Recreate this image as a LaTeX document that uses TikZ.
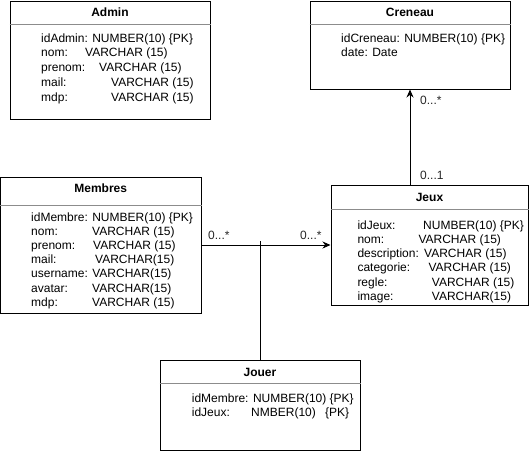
\documentclass[tikz,border=0pt]{standalone}
\usepackage{fontspec}
\setmainfont{Liberation Sans}
\usetikzlibrary{arrows.meta,calc}
\begin{document}
\begin{tikzpicture}[x=1pt,y=-1pt,
  font=\fontsize{12}{14}\selectfont,
  box/.style={draw=black, line width=1pt, rectangle, inner sep=0pt, anchor=center},
  divider/.style={draw=black!45, line width=0.8pt},
  txt/.style={anchor=base west, inner sep=0pt},
  ttl/.style={anchor=base, inner sep=0pt, font=\fontsize{12}{14}\selectfont\bfseries},
  conn/.style={draw=black, line width=1pt},
  lbl/.style={anchor=base west, inner sep=0pt, text=black!85}]
\useasboundingbox (0,0) rectangle (531,451);
% boxes
\node[box, minimum width=200pt, minimum height=118.5pt] (admin) at (110,60.25) {};
\node[box, minimum width=200pt, minimum height=88pt] (creneau) at (410,45) {};
\node[box, minimum width=200.5pt, minimum height=136pt] (membres) at (100.75,245.3) {};
\node[box, minimum width=197pt, minimum height=120pt] (jeux) at (429.5,245) {};
\node[box, minimum width=200pt, minimum height=90pt] (jouer) at (260,405) {};
% dividers
\draw[divider] (admin.west |- 0,24) -- (admin.east |- 0,24);
\draw[divider] (creneau.west |- 0,24) -- (creneau.east |- 0,24);
\draw[divider] (membres.west |- 0,205.3) -- (membres.east |- 0,205.3);
\draw[divider] (jeux.west |- 0,209.3) -- (jeux.east |- 0,209.3);
\draw[divider] (jouer.west |- 0,383) -- (jouer.east |- 0,383);
% titles
\node[ttl] (tadmin) at (110,16) {Admin};
\node[ttl] (tcreneau) at (410,16) {Creneau};
\node[ttl] (tmembres) at (100.75,192) {Membres};
\node[ttl] (tjeux) at (429.5,201) {Jeux};
\node[ttl] (tjouer) at (260,376) {Jouer};
% Admin
\node[txt] (a1) at (41,42) {idAdmin: NUMBER(10) \{PK\}};
\node[txt] (a2) at (41,56.75) {nom:};
\node[txt] (a2v) at (85,56.75) {VARCHAR (15)};
\node[txt] (a3) at (41,71.5) {prenom:};
\node[txt] (a3v) at (99,71.5) {VARCHAR (15)};
\node[txt] (a4) at (41,86.25) {mail:};
\node[txt] (a4v) at (111,86.25) {VARCHAR (15)};
\node[txt] (a5) at (41,101) {mdp:};
\node[txt] (a5v) at (111,101) {VARCHAR (15)};
% Creneau
\node[txt] (c1) at (341,42) {idCreneau: NUMBER(10) \{PK\}};
\node[txt] (c2) at (341,56.75) {date: Date};
% Membres
\node[txt] (m1) at (31,221) {idMembre: NUMBER(10) \{PK\}};
\node[txt] (m2) at (31,235.2) {nom:};
\node[txt] (m2v) at (92,235.2) {VARCHAR (15)};
\node[txt] (m3) at (31,249.4) {prenom:};
\node[txt] (m3v) at (93,249.4) {VARCHAR (15)};
\node[txt] (m4) at (31,263.6) {mail:};
\node[txt] (m4v) at (95,263.6) {VARCHAR(15)};
\node[txt] (m5) at (31,277.8) {username: VARCHAR(15)};
\node[txt] (m6) at (31,292) {avatar:};
\node[txt] (m6v) at (92,292) {VARCHAR(15)};
\node[txt] (m7) at (31,306.2) {mdp:};
\node[txt] (m7v) at (92,306.2) {VARCHAR (15)};
% Jeux
\node[txt] (j1) at (357.3,229) {idJeux:};
\node[txt] (j1v) at (423,229) {NUMBER(10) \{PK\}};
\node[txt] (j2) at (357.3,243.3) {nom:};
\node[txt] (j2v) at (418.3,243.3) {VARCHAR (15)};
\node[txt] (j3) at (357.3,257.6) {description:};
\node[txt] (j3v) at (424,257.6) {VARCHAR (15)};
\node[txt] (j4) at (357.3,271.9) {categorie:};
\node[txt] (j4v) at (428.3,271.9) {VARCHAR (15)};
\node[txt] (j5) at (357.3,286.2) {regle:};
\node[txt] (j5v) at (431.7,286.2) {VARCHAR (15)};
\node[txt] (j6) at (357.3,300.5) {image:};
\node[txt] (j6v) at (431.7,300.5) {VARCHAR(15)};
% Jouer
\node[txt] (o1) at (191.7,402.3) {idMembre: NUMBER(10) \{PK\}};
\node[txt] (o2) at (191.7,416.7) {idJeux:};
\node[txt] (o2v) at (251,416.7) {NMBER(10)};
\node[txt] (o2k) at (325,416.7) {\{PK\}};
% connectors
\draw[conn, -{Stealth[length=8pt,width=7pt]}] (creneau.south |- jeux.north) -- (creneau.south);
\draw[conn, -{Stealth[length=8pt,width=7pt]}] (membres.east |- jeux.west) -- (jeux.west);
\coordinate (jtop) at (260,241);
\draw[conn] (jouer.north) -- (jtop);
% multiplicities
\node[lbl] (l1) at (420,104) {0...*};
\node[lbl] (l2) at (420,179) {0...1};
\node[lbl] (l3) at (208,239) {0...*};
\node[lbl] (l4) at (300,239) {0...*};
\end{tikzpicture}
\end{document}
